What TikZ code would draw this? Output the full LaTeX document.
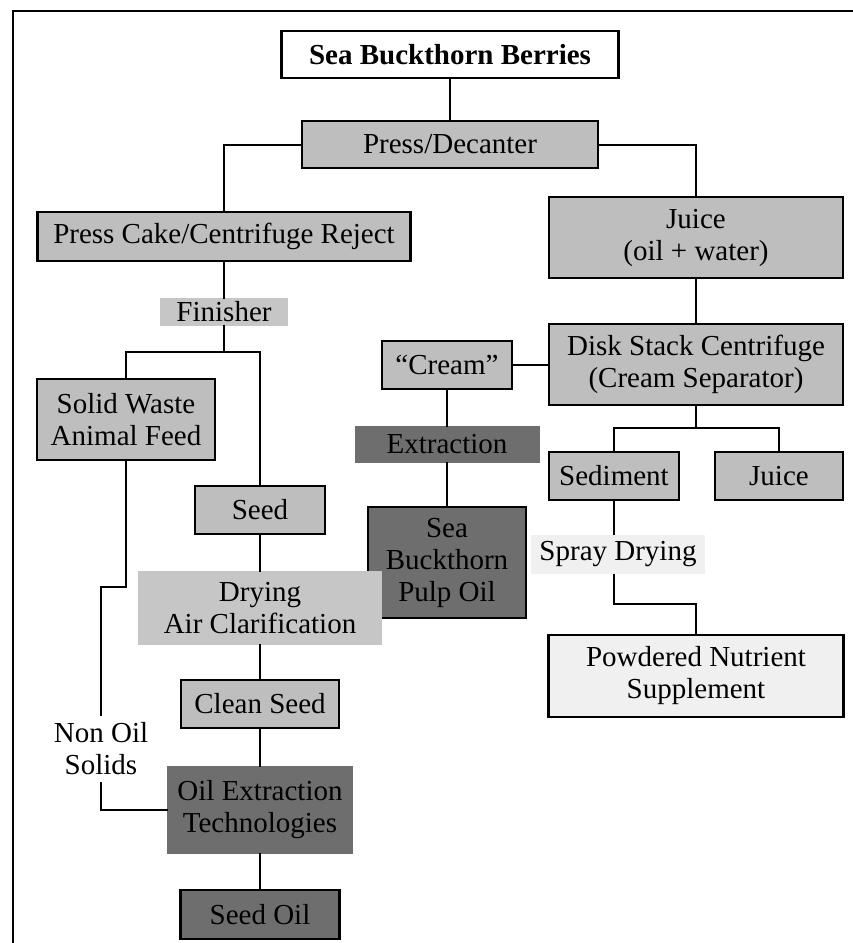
\documentclass[tikz,border=0pt]{standalone}
\usepackage{fontspec}
\setmainfont{Liberation Serif}
\definecolor{lgray}{HTML}{BEBEBE}
\definecolor{dgray}{HTML}{6E6E6E}
\definecolor{mgray}{HTML}{C6C6C6}
\definecolor{pale}{HTML}{F0F0F0}
\begin{document}
\begin{tikzpicture}[x=1pt,y=-1pt,
  every node/.style={font=\fontsize{29}{32}\selectfont, align=center, inner sep=0pt, outer sep=0pt},
  bbox/.style={draw=black, line width=2.6pt, fill=lgray},
  dbox/.style={draw=black, line width=2.6pt, fill=dgray},
  wbox/.style={draw=black, line width=2.6pt, fill=white},
  pbox/.style={draw=black, line width=2.6pt, fill=pale},
  flat/.style={fill=#1},
  conn/.style={line width=2pt, line cap=rect}]
\useasboundingbox (0,0) rectangle (853,943);
% frame
\draw[line width=2.6pt] (13,943) -- (13,11) -- (860,11);
% nodes
\node[wbox, minimum width=337pt, minimum height=47pt, font=\fontsize{29}{32}\selectfont\bfseries] (berries) at (450,54.5) {Sea Buckthorn Berries};
\node[bbox, minimum width=296pt, minimum height=47pt] (press) at (450,144.5) {Press/Decanter};
\node[bbox, minimum width=373pt, minimum height=49pt] (cake) at (224,236.5) {Press Cake/Centrifuge Reject};
\node[bbox, minimum width=294pt, minimum height=81pt] (juice1) at (696,237.5) {Juice\\(oil + water)};
\node[flat=mgray, minimum width=128pt, minimum height=28pt] (finisher) at (224,312) {Finisher};
\node[bbox, minimum width=178pt, minimum height=81pt] (solid) at (126,419.5) {Solid Waste\\Animal Feed};
\node[bbox, minimum width=130pt, minimum height=48pt] (seed) at (260,510) {Seed};
\node[dbox, minimum width=158pt, minimum height=111pt] (pulp) at (447,562.5) {Sea\\Buckthorn\\Pulp Oil};
\node[flat=mgray, minimum width=244pt, minimum height=74pt] (drying) at (260,608) {Drying\\Air Clarification};
\node[bbox, minimum width=158pt, minimum height=48pt] (clean) at (260,704) {Clean Seed};
\node[flat=dgray, minimum width=186pt, minimum height=88pt] (oilext) at (260,810) {Oil Extraction\\Technologies};
\node[dbox, minimum width=159pt, minimum height=49pt] (seedoil) at (260,914.5) {Seed Oil};
\node[bbox, minimum width=294pt, minimum height=81pt] (disk) at (696,364.5) {Disk Stack Centrifuge\\(Cream Separator)};
\node[bbox, minimum width=130pt, minimum height=48pt] (cream) at (447,365) {“Cream”};
\node[flat=dgray, minimum width=185pt, minimum height=37pt] (extraction) at (447,444.5) {Extraction};
\node[bbox, minimum width=130pt, minimum height=48pt] (sediment) at (614,476) {Sediment};
\node[bbox, minimum width=128pt, minimum height=48pt] (juice2) at (779,476) {Juice};
\node[pbox, minimum width=295pt, minimum height=82pt] (powder) at (696,676) {Powdered Nutrient\\Supplement};
\node[minimum width=70pt, minimum height=68pt] (nonoil) at (101,749) {Non Oil\\Solids};
% connectors
\draw[conn] (berries.south) -- (press.north);
\draw[conn] (press.west) -| (cake.north);
\draw[conn] (press.east) -| (juice1.north);
\draw[conn] (cake.south) -- (finisher.north);
\draw[conn] (finisher.south) -- ++(0,26) coordinate (fj);
\draw[conn] (solid.north) |- (fj) -| (seed.north);
\draw[conn] (seed.south) -- (drying.north);
\draw[conn] (drying.south) -- (clean.north);
\draw[conn] (clean.south) -- (oilext.north);
\draw[conn] (oilext.south) -- (seedoil.north);
\draw[conn] (solid.south) -- ++(0,127) -| (nonoil.north);
\draw[conn] (nonoil.south) |- (oilext.west);
\draw[conn] (juice1.south) -- (disk.north);
\draw[conn] (cream.east) -- (cream.east -| disk.west);
\draw[conn] (cream.south) -- (extraction.north);
\draw[conn] (extraction.south) -- (pulp.north);
\draw[conn] (disk.south) -- ++(0,23) coordinate (dj);
\draw[conn] (sediment.north) |- (dj) -| (juice2.north);
\coordinate (sp) at (614,604);
\draw[conn] (sediment.south) -- (sp) -| (powder.north);
\node[flat=pale, minimum width=174pt, minimum height=39pt] (spray) at (618,554.5) {Spray Drying};
\end{tikzpicture}
\end{document}
